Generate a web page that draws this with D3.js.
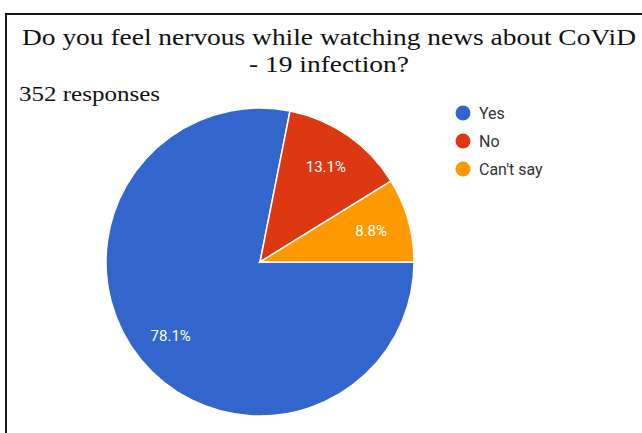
<!DOCTYPE html>
<html>
<head>
<meta charset="utf-8">
<script src="https://cdn.jsdelivr.net/npm/d3@7"></script>
<style>
  html, body { margin: 0; padding: 0; background: #fff; }
  svg { display: block; }
</style>
</head>
<body>
<svg id="chart" width="642" height="433"></svg>
<script>
// Survey answers and response counts (352 responses in total)
const categories = ["Yes", "No", "Can't say"];
const counts = [275, 46, 31];
const percentLabels = ["78.1%", "13.1%", "8.8%"];
const colors = ["#3366cc", "#dc3912", "#ff9900"];
const titleLines = ["Do you feel nervous while watching news about CoViD", "- 19 infection?"];
const subtitle = "352 responses";

const svg = d3.select("#chart");
const W = 642, H = 433;
const serif = "'Liberation Serif', 'Times New Roman', serif";
const sans = "Roboto, Arial, sans-serif";

// Frame: top and left rules only
svg.append("line").attr("x1", 5).attr("x2", W).attr("y1", 14).attr("y2", 14)
  .attr("stroke", "#1a1a1a").attr("stroke-width", 2);
svg.append("line").attr("x1", 6).attr("x2", 6).attr("y1", 13).attr("y2", H)
  .attr("stroke", "#1a1a1a").attr("stroke-width", 2);

// Title, two centred lines sharing one horizontal scale
const titleSize = 24, titleWidth = 614;
const title = svg.append("g");
const firstLine = title.append("text")
  .attr("font-family", serif).attr("font-size", titleSize).text(titleLines[0]);
const squeeze = titleWidth / firstLine.node().getComputedTextLength();
firstLine.remove();

title.selectAll("text").data(titleLines).join("text")
  .attr("x", 329).attr("y", (d, i) => 45 + i * 27)
  .attr("text-anchor", "middle")
  .attr("font-family", serif)
  .attr("font-size", titleSize).attr("fill", "#111")
  .text(d => d)
  .each(function () {
    const w = this.getComputedTextLength();
    d3.select(this).attr("textLength", w * squeeze).attr("lengthAdjust", "spacingAndGlyphs");
  });

svg.append("text").attr("x", 19).attr("y", 101)
  .attr("font-family", serif)
  .attr("font-size", 22).attr("fill", "#111")
  .attr("textLength", 141).attr("lengthAdjust", "spacingAndGlyphs")
  .text(subtitle);

// Pie, starting at 3 o'clock and running clockwise
const cx = 260, cy = 262, r = 154;
const pie = d3.pie().sort(null)
  .startAngle(Math.PI / 2).endAngle(Math.PI / 2 + 2 * Math.PI)
  .value(d => d);
const arcs = pie(counts);
const arc = d3.arc().innerRadius(0).outerRadius(r);
const labelArc = d3.arc().innerRadius(r * 0.75).outerRadius(r * 0.75);

const g = svg.append("g").attr("transform", `translate(${cx},${cy})`);
g.selectAll("path").data(arcs).join("path")
  .attr("d", arc)
  .attr("fill", (d, i) => colors[i])
  .attr("stroke", "#fff").attr("stroke-width", 1.5);

g.selectAll("text").data(arcs).join("text")
  .attr("transform", d => `translate(${labelArc.centroid(d)})`)
  .attr("text-anchor", "middle").attr("dy", "0.35em")
  .attr("font-family", sans)
  .attr("font-size", 15).attr("fill", "#fff")
  .text((d, i) => percentLabels[i]);

// Legend
const legend = svg.append("g").attr("transform", "translate(463,113)");
const rows = legend.selectAll("g").data(categories).join("g")
  .attr("transform", (d, i) => `translate(0,${i * 28})`);
rows.append("circle").attr("r", 7.5).attr("fill", (d, i) => colors[i]);
rows.append("text").attr("x", 16).attr("dy", "0.35em")
  .attr("font-family", sans)
  .attr("font-size", 16).attr("fill", "#333")
  .text(d => d);
</script>
</body>
</html>
